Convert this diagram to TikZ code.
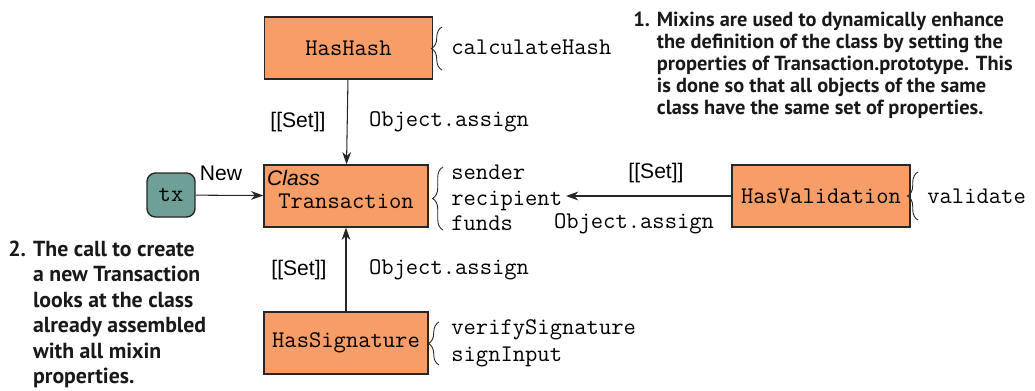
\documentclass[tikz,border=0pt]{standalone}
\usepackage{fontspec}
\setmainfont{Liberation Sans}
\newfontfamily\notefont{PT Sans}
\usepackage{xcolor}
\usepackage{tikz}
\usetikzlibrary{arrows.meta, positioning, decorations.pathreplacing}

\definecolor{mixinorange}{RGB}{246,157,104}
\definecolor{txteal}{RGB}{111,160,152}

\newcommand{\codefont}{\ttfamily\fontsize{13.6}{14.5}\selectfont}

\begin{document}
\begin{tikzpicture}[
    x=0.02cm, y=-0.02cm,
    box/.style={rectangle, draw=black!85, fill=mixinorange, line width=0.8pt, minimum height=1.24cm, inner sep=0pt, font=\codefont},
    mono/.style={font=\codefont, inner sep=0pt, align=left},
    lbl/.style={font=\fontsize{12}{14}\selectfont, inner sep=0pt},
    note/.style={font=\notefont\bfseries\fontsize{11.6}{12.5}\selectfont, inner sep=0pt, align=left, text=black!90},
    arrow/.style={-{Stealth[length=7pt,width=5pt]}, line width=0.6pt, draw=black!85},
    brc/.style={decorate, decoration={brace, amplitude=6pt}, line width=0.5pt, draw=black!85}
]
\useasboundingbox (0,0) rectangle (1035,390);

% Nodes
\node[box, minimum width=3.36cm] (hashbox) at (348.5,48) {HasHash};
\node[box, minimum width=3.28cm] (txclass) at (346,196) {};
\node[mono, yshift=-3pt] (txname) at (txclass.center) {Transaction};
\node[lbl, font=\itshape\fontsize{12}{14}\selectfont, anchor=north west] (classlbl) at ([xshift=2pt,yshift=-3pt]txclass.north west) {Class};
\node[box, minimum width=3.28cm] (signbox) at (346,343) {HasSignature};
\node[box, minimum width=3.56cm] (validbox) at (821,196) {HasValidation};
\node[rectangle, rounded corners=0.17cm, draw=black!85, fill=txteal, line width=0.8pt, minimum width=0.96cm, minimum height=0.88cm, inner sep=0pt, font=\codefont] (tx) at (171,195) {tx};

% Members
\node[mono, anchor=west] (hashmembers) at (451,47) {calculateHash};
\node[mono, anchor=west] (txmembers) at (451,198) {sender\\recipient\\funds};
\node[mono, anchor=west] (validmembers) at (927,196) {validate};
\node[mono, anchor=west, font=\ttfamily\fontsize{13.6}{15.5}\selectfont] (signmembers) at (451,343) {verifySignature\\signInput};

% Braces
\draw[brc] (442,70) -- (442,27);
\draw[brc] (443,230) -- (443,167);
\draw[brc] (918,220) -- (918,172);
\draw[brc] (439,365) -- (439,322);

% Arrows
\draw[arrow] (hashbox) -- (txclass);
\draw[arrow] (signbox) -- (txclass);
\draw[arrow] (tx) -- (txclass);
\draw[arrow] (validbox.west) -- ([xshift=2pt]txmembers.east |- validbox.west);

% Labels
\node[lbl] (hashset) at (298,122) {[[Set]]};
\node[mono] (hashassign) at (449,122) {Object.assign};
\node[lbl] (signset) at (299,270) {[[Set]]};
\node[mono] (signassign) at (449,270) {Object.assign};
\node[lbl] (validset) at (656,173) {[[Set]]};
\node[mono] (validassign) at (634,224) {Object.assign};
\node[lbl] (newlbl) at (221,173) {New};

% Notes
\node[note, anchor=north west] (note1) at (633,11) {%
\begin{tabular}{@{}l@{\hspace{4pt}}l@{}}
1. & Mixins are used to dynamically enhance\\
   & the definition of the class by setting the\\
   & properties of Transaction.prototype. This\\
   & is done so that all objects of the same\\
   & class have the same set of properties.
\end{tabular}};
\node[note, anchor=north west, font=\notefont\bfseries\fontsize{12.4}{14.5}\selectfont] (note2) at (8,238) {%
\begin{tabular}{@{}l@{\hspace{4pt}}l@{}}
2. & The call to create\\
   & a new Transaction\\
   & looks at the class\\
   & already assembled\\
   & with all mixin\\
   & properties.
\end{tabular}};

\end{tikzpicture}
\end{document}
